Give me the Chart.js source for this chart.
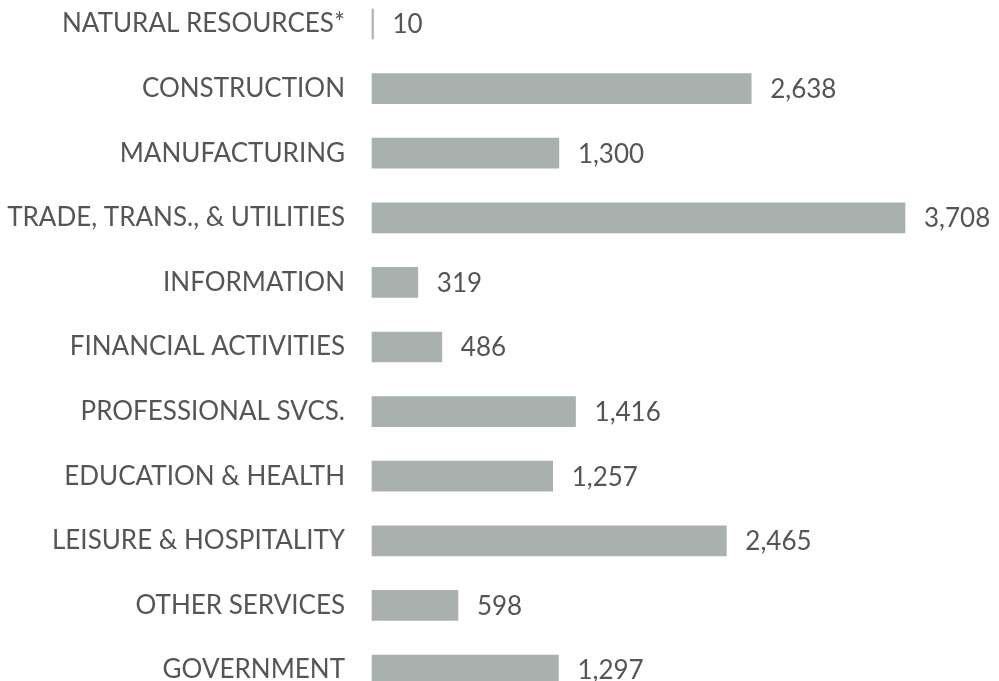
<!DOCTYPE html>
<html>
<head>
<meta charset="utf-8">
<script src="https://cdn.jsdelivr.net/npm/chart.js@4"></script>
<style>
  html, body { margin: 0; padding: 0; background: #ffffff; }
</style>
</head>
<body>
<canvas id="graph" width="999" height="681"></canvas>
<script>
var industries = ["NATURAL RESOURCES*", "CONSTRUCTION", "MANUFACTURING",
  "TRADE, TRANS., & UTILITIES", "INFORMATION", "FINANCIAL ACTIVITIES",
  "PROFESSIONAL SVCS.", "EDUCATION & HEALTH", "LEISURE & HOSPITALITY",
  "OTHER SERVICES", "GOVERNMENT"];
var jobs = [10, 2638, 1300, 3708, 319, 486, 1416, 1257, 2465, 598, 1297];

var textColor = "#555555";
var barColor = "#a9b1ae";
var fontFamily = "Lato, 'Open Sans', sans-serif";

// numbers to the right of each bar
var valueLabels = {
  id: 'valueLabels',
  afterDatasetsDraw: function(chart) {
    var ctx = chart.ctx;
    var meta = chart.getDatasetMeta(0);
    ctx.save();
    ctx.fillStyle = textColor;
    ctx.font = "26px " + fontFamily;
    ctx.textAlign = "left";
    ctx.textBaseline = "middle";
    meta.data.forEach(function(bar, i) {
      ctx.fillText(jobs[i].toLocaleString("en-US"), bar.x + 19, bar.y + 1);
    });
    ctx.restore();
  }
};

var ctx1 = document.getElementById("graph").getContext('2d');

var jobsChart = new Chart(ctx1, {
  type: 'bar',
  data: {
    labels: industries,
    datasets: [{
      data: jobs,
      backgroundColor: barColor,
      barThickness: 30,
      clip: false
    }]
  },
  options: {
    indexAxis: 'y',
    responsive: false,
    animation: false,
    maintainAspectRatio: false,
    layout: { padding: { top: 24, bottom: 11, left: 0, right: 52 } },
    plugins: {
      legend: { display: false },
      tooltip: { enabled: false }
    },
    scales: {
      x: {
        display: false,
        min: 0,
        max: 4000
      },
      y: {
        offset: false,
        grid: { display: false, drawTicks: false },
        border: { display: false },
        ticks: {
          color: textColor,
          padding: 27,
          font: { family: fontFamily, size: 26 }
        },
        afterFit: function(scale) {
          scale.width = 372;
          // let the end labels sit on the edges, no extra room
          scale.paddingTop = 0;
          scale.paddingBottom = 0;
        }
      }
    }
  },
  plugins: [valueLabels]
});
</script>
</body>
</html>
